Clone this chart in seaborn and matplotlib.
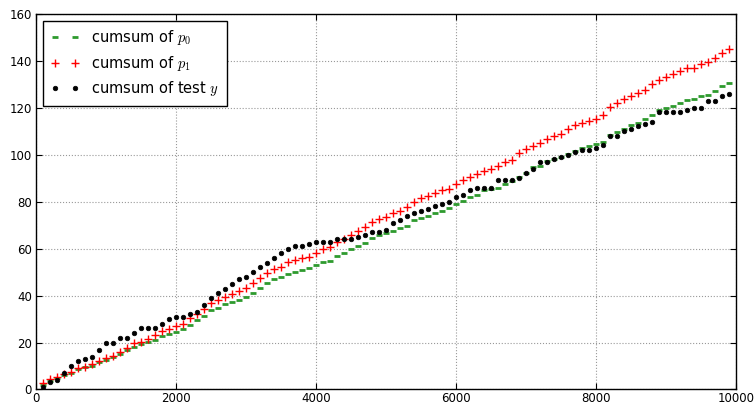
import matplotlib
matplotlib.use("Agg")
import matplotlib.pyplot as plt
import seaborn as sns
import pandas as pd

# sample positions (every 100 samples)
steps = list(range(100, 10000, 100))

cumsum_p0 = [1.9, 3.7, 5.0, 6.0, 7.1, 8.7, 9.4, 10.0, 11.6, 12.6,
             13.7, 15.1, 16.8, 18.3, 19.2, 20.2, 21.1, 22.8, 23.6, 24.6,
             25.7, 27.4, 29.6, 31.4, 33.8, 34.5, 36.3, 37.4, 38.1, 39.2,
             40.9, 43.1, 45.2, 46.9, 48.0, 49.1, 50.1, 50.9, 51.6, 53.0,
             54.4, 54.8, 56.9, 58.2, 59.8, 61.2, 62.2, 64.3, 65.7, 66.5,
             67.6, 68.9, 69.7, 72.1, 72.9, 74.0, 75.0, 76.1, 77.1, 78.9,
             80.2, 82.0, 82.8, 84.9, 85.2, 86.0, 87.7, 88.7, 90.3, 92.2,
             94.6, 95.0, 97.1, 98.2, 98.9, 100.2, 101.6, 102.8, 103.6, 104.4,
             105.4, 108.3, 109.7, 111.1, 112.6, 113.5, 115.4, 116.8, 118.9, 119.9,
             120.6, 122.0, 123.2, 123.5, 124.9, 125.6, 127.1, 129.1, 130.6]

cumsum_p1 = [2.6, 4.3, 5.5, 6.8, 7.6, 9.0, 9.7, 10.7, 12.1, 13.3,
             14.2, 15.9, 17.8, 19.7, 20.4, 21.5, 23.0, 24.8, 25.6, 27.0,
             28.0, 30.3, 32.3, 34.2, 36.8, 38.0, 39.5, 40.6, 42.0, 43.3,
             45.4, 47.3, 49.4, 51.3, 52.3, 54.2, 55.1, 55.8, 56.5, 58.0,
             59.7, 60.5, 62.7, 63.9, 65.7, 67.7, 69.1, 71.2, 72.7, 73.5,
             75.0, 76.0, 77.5, 79.9, 81.7, 82.6, 83.7, 84.9, 85.4, 87.3,
             89.1, 90.6, 91.6, 93.0, 93.7, 95.1, 96.7, 97.7, 100.5, 102.4,
             103.6, 104.8, 106.8, 107.9, 108.6, 110.8, 112.5, 113.5, 114.4, 115.4,
             116.8, 120.3, 122.0, 123.9, 124.9, 126.3, 127.7, 129.9, 132.0, 133.1,
             134.3, 135.7, 137.1, 137.1, 138.5, 139.5, 141.2, 143.1, 144.8]

cumsum_y = [1, 3, 4, 7, 10, 12, 13, 14, 17, 20,
            20, 22, 22, 24, 26, 26, 26, 28, 30, 31,
            31, 32, 33, 36, 39, 41, 43, 45, 47, 48,
            50, 52, 54, 56, 58, 60, 61, 61, 62, 63,
            63, 63, 64, 64, 64, 65, 66, 67, 67, 68,
            71, 72, 74, 75, 76, 77, 78, 79, 80, 82,
            83, 85, 86, 86, 86, 89, 89, 89, 90, 92,
            94, 97, 97, 98, 99, 100, 101, 102, 102, 103,
            104, 108, 108, 110, 111, 112, 113, 114, 118, 118,
            118, 118, 119, 120, 120, 123, 123, 125, 126]

labels = ["cumsum of $p_0$", "cumsum of $p_1$", "cumsum of test $y$"]

plt.rcParams["font.family"] = ["DejaVu Sans"]
plt.rcParams["mathtext.fontset"] = "cm"
plt.rcParams["xtick.direction"] = "in"
plt.rcParams["ytick.direction"] = "in"

df = pd.DataFrame({"step": steps, "p0": cumsum_p0, "p1": cumsum_p1, "y": cumsum_y})

fig = plt.figure(figsize=(7.56, 4.05), dpi=100)
ax = fig.add_axes([0.0476, 0.0383, 0.9259, 0.9277])

sns.lineplot(data=df, x="step", y="p0", ax=ax, linestyle="", marker="_",
             color="#008000", markeredgecolor="#2e9a2e", markersize=5,
             markeredgewidth=2, label=labels[0])
sns.lineplot(data=df, x="step", y="p1", ax=ax, linestyle="", marker="+",
             color="#ff0000", markeredgecolor="#ff0000", markersize=5.5,
             markeredgewidth=1.0, label=labels[1])
sns.lineplot(data=df, x="step", y="y", ax=ax, linestyle="", marker="o",
             color="black", markersize=3.3, markeredgewidth=0.5,
             markeredgecolor="black", label=labels[2])

ax.set_xlim(0, 10000)
ax.set_ylim(0, 160)
ax.set_xticks([0, 2000, 4000, 6000, 8000, 10000])
ax.set_yticks(list(range(0, 161, 20)))
ax.set_xlabel("")
ax.set_ylabel("")
ax.tick_params(axis="both", labelsize=8.5, top=True, right=True, length=4, width=0.8)
ax.tick_params(axis="x", pad=1.5)
ax.tick_params(axis="y", pad=3)
ax.grid(True, color="#999999", linestyle=":", linewidth=0.8)
for s in ax.spines.values():
    s.set_color("black")
    s.set_linewidth(1.0)

leg = ax.legend(loc="upper left", numpoints=2, fontsize=10.5, fancybox=False,
                framealpha=1, edgecolor="black", handlelength=2.0,
                borderpad=0.5, labelspacing=0.45)
leg.get_frame().set_linewidth(1.0)

fig.savefig("out.png", dpi=100)
